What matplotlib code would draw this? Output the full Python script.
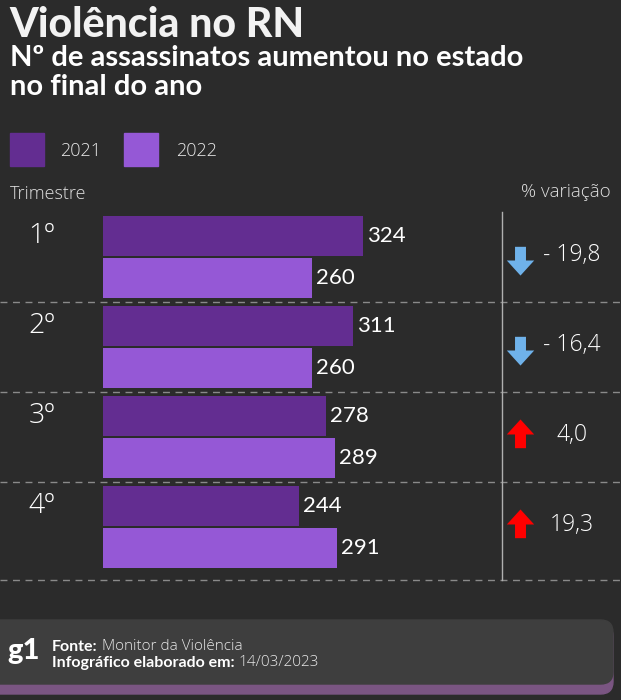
import numpy as np
import matplotlib.pyplot as plt
from matplotlib.path import Path
from matplotlib.patches import FancyBboxPatch, Rectangle
from matplotlib.lines import Line2D

# data
quarters = ["1º", "2º", "3º", "4º"]
v2021 = [324, 311, 278, 244]
v2022 = [260, 260, 289, 291]
variation = [-19.8, -16.4, 4.0, 19.3]
years = ["2021", "2022"]

BG = "#2b2b2b"
C2021 = "#632d91"
C2022 = "#9558d6"
W, H = 621, 700
LIGHT = ["Open Sans", "DejaVu Sans"]

plt.rcParams["font.family"] = ["Lato", "DejaVu Sans"]

fig = plt.figure(figsize=(W / 100, H / 100), dpi=100)
fig.patch.set_facecolor(BG)
renderer = fig.canvas.get_renderer()


def fx(x):
    return x / W


def fy(y):
    return 1 - y / H


def after(t, gap=4):
    # x pixel just right of an existing text
    bb = t.get_window_extent(renderer=renderer)
    return bb.x1 + gap


# titles
fig.text(fx(9), fy(25), "Violência no RN", color="#f2f2f2", fontsize=29.5,
         fontweight="black", va="center", ha="left")
fig.text(fx(10), fy(58), "Nº de assassinatos aumentou no estado", color="white",
         fontsize=21, fontweight="bold", va="center", ha="left")
fig.text(fx(10), fy(87), "no final do ano", color="white",
         fontsize=21, fontweight="bold", va="center", ha="left")

# legend
for x0, xt, col, lab in [(10, 60, C2021, years[0]), (124, 176, C2022, years[1])]:
    fig.patches.append(Rectangle((fx(x0), fy(166)), 34 / W, 33 / H,
                                 transform=fig.transFigure, color=col))
    fig.text(fx(xt), fy(151), lab, color="#e8e8e8", fontsize=13,
             family=LIGHT, fontweight="light", va="center", ha="left")

fig.text(fx(10), fy(194), "Trimestre", color="#e0e0e0", fontsize=13,
         family=LIGHT, fontweight="light", va="center", ha="left")
fig.text(fx(611), fy(192), "% variação", color="#e0e0e0", fontsize=13.5,
         family=LIGHT, fontweight="light", va="center", ha="right")

# bar axes: group i centered at pixel 257 + 90 i
top_px, bot_px = 205, 590
ylim = ((bot_px - 257) / 90, (top_px - 257) / 90)
ax = fig.add_axes([fx(103), fy(bot_px), (W - 103) / W, (bot_px - top_px) / H])
ax.set_facecolor("none")
ax.set_xlim(0, (W - 103) / 0.803)
ax.set_ylim(*ylim)
ax.axis("off")

idx = np.arange(len(quarters))
off = 0.233
ax.barh(idx - off, v2021, height=0.445, color=C2021)
ax.barh(idx + off, v2022, height=0.445, color=C2022)
for i in idx:
    ax.text(v2021[i] + 5, i - off, str(v2021[i]), color="white", fontsize=16,
            va="center", ha="left")
    ax.text(v2022[i] + 5, i + off, str(v2022[i]), color="white", fontsize=16,
            va="center", ha="left")

# overlay axes in pixel x for labels / variation column
ov = fig.add_axes([0, fy(bot_px), 1, (bot_px - top_px) / H])
ov.set_facecolor("none")
ov.set_xlim(0, W)
ov.set_ylim(*ylim)
ov.axis("off")

for i, q in enumerate(quarters):
    ov.text(42, i - 0.23, q, color="white", fontsize=20.5, family=LIGHT,
            fontweight="light", va="center", ha="center")

# separators
for yv in list(idx[:-1] + 0.5) + [3.59]:
    ov.add_line(Line2D([0, W], [yv, yv], color="#8a8a8a", lw=1,
                       linestyle=(0, (5, 4))))
ov.add_line(Line2D([502, 502], [-0.5, 3.59], color="#b0b0b0", lw=1))

# arrow markers
down = Path([(-0.2, 0.5), (0.2, 0.5), (0.2, 0.0), (0.5, 0.0), (0.0, -0.55),
             (-0.5, 0.0), (-0.2, 0.0), (-0.2, 0.5)], closed=True)
up = Path([(x, -y) for x, y in down.vertices], closed=True)
for i, v in enumerate(variation):
    if v < 0:
        ov.scatter([520], [i + 0.03], marker=down, s=470, color="#6fb2ea",
                   linewidths=0)
        lab = "- " + f"{abs(v):.1f}".replace(".", ",")
    else:
        ov.scatter([520], [i - 0.03], marker=up, s=470, color="#ff0000",
                   linewidths=0)
        lab = f"{v:.1f}".replace(".", ",")
    ov.text(572, i - 0.02, lab, color="white", fontsize=16.5, family=LIGHT,
            fontweight="light", va="center", ha="center")

# footer
fig.patches.append(FancyBboxPatch((fx(-20), fy(694)), 633 / W, 70 / H,
                                  boxstyle="round,pad=0,rounding_size=0.02",
                                  transform=fig.transFigure, color="#7a5582",
                                  mutation_aspect=W / H))
fig.patches.append(FancyBboxPatch((fx(-20), fy(684)), 633 / W, 64 / H,
                                  boxstyle="round,pad=0,rounding_size=0.02",
                                  transform=fig.transFigure, color="#3e3e3e",
                                  mutation_aspect=W / H))
fig.text(fx(7), fy(651), "g1", color="white", fontsize=21, fontweight="black",
         va="center", ha="left")
t1 = fig.text(fx(52), fy(647), "Fonte:", color="white", fontsize=11.5,
              fontweight="bold", va="center", ha="left")
fig.text(after(t1) / W, fy(647), "Monitor da Violência", color="#e8e8e8",
         fontsize=11, family=LIGHT, fontweight="light", va="center", ha="left")
t2 = fig.text(fx(52), fy(663), "Infográfico elaborado em:", color="white",
              fontsize=11.5, fontweight="bold", va="center", ha="left")
fig.text(after(t2) / W, fy(663), "14/03/2023", color="#e8e8e8", fontsize=11,
         family=LIGHT, fontweight="light", va="center", ha="left")

fig.savefig("out.png", dpi=100, facecolor=BG)
